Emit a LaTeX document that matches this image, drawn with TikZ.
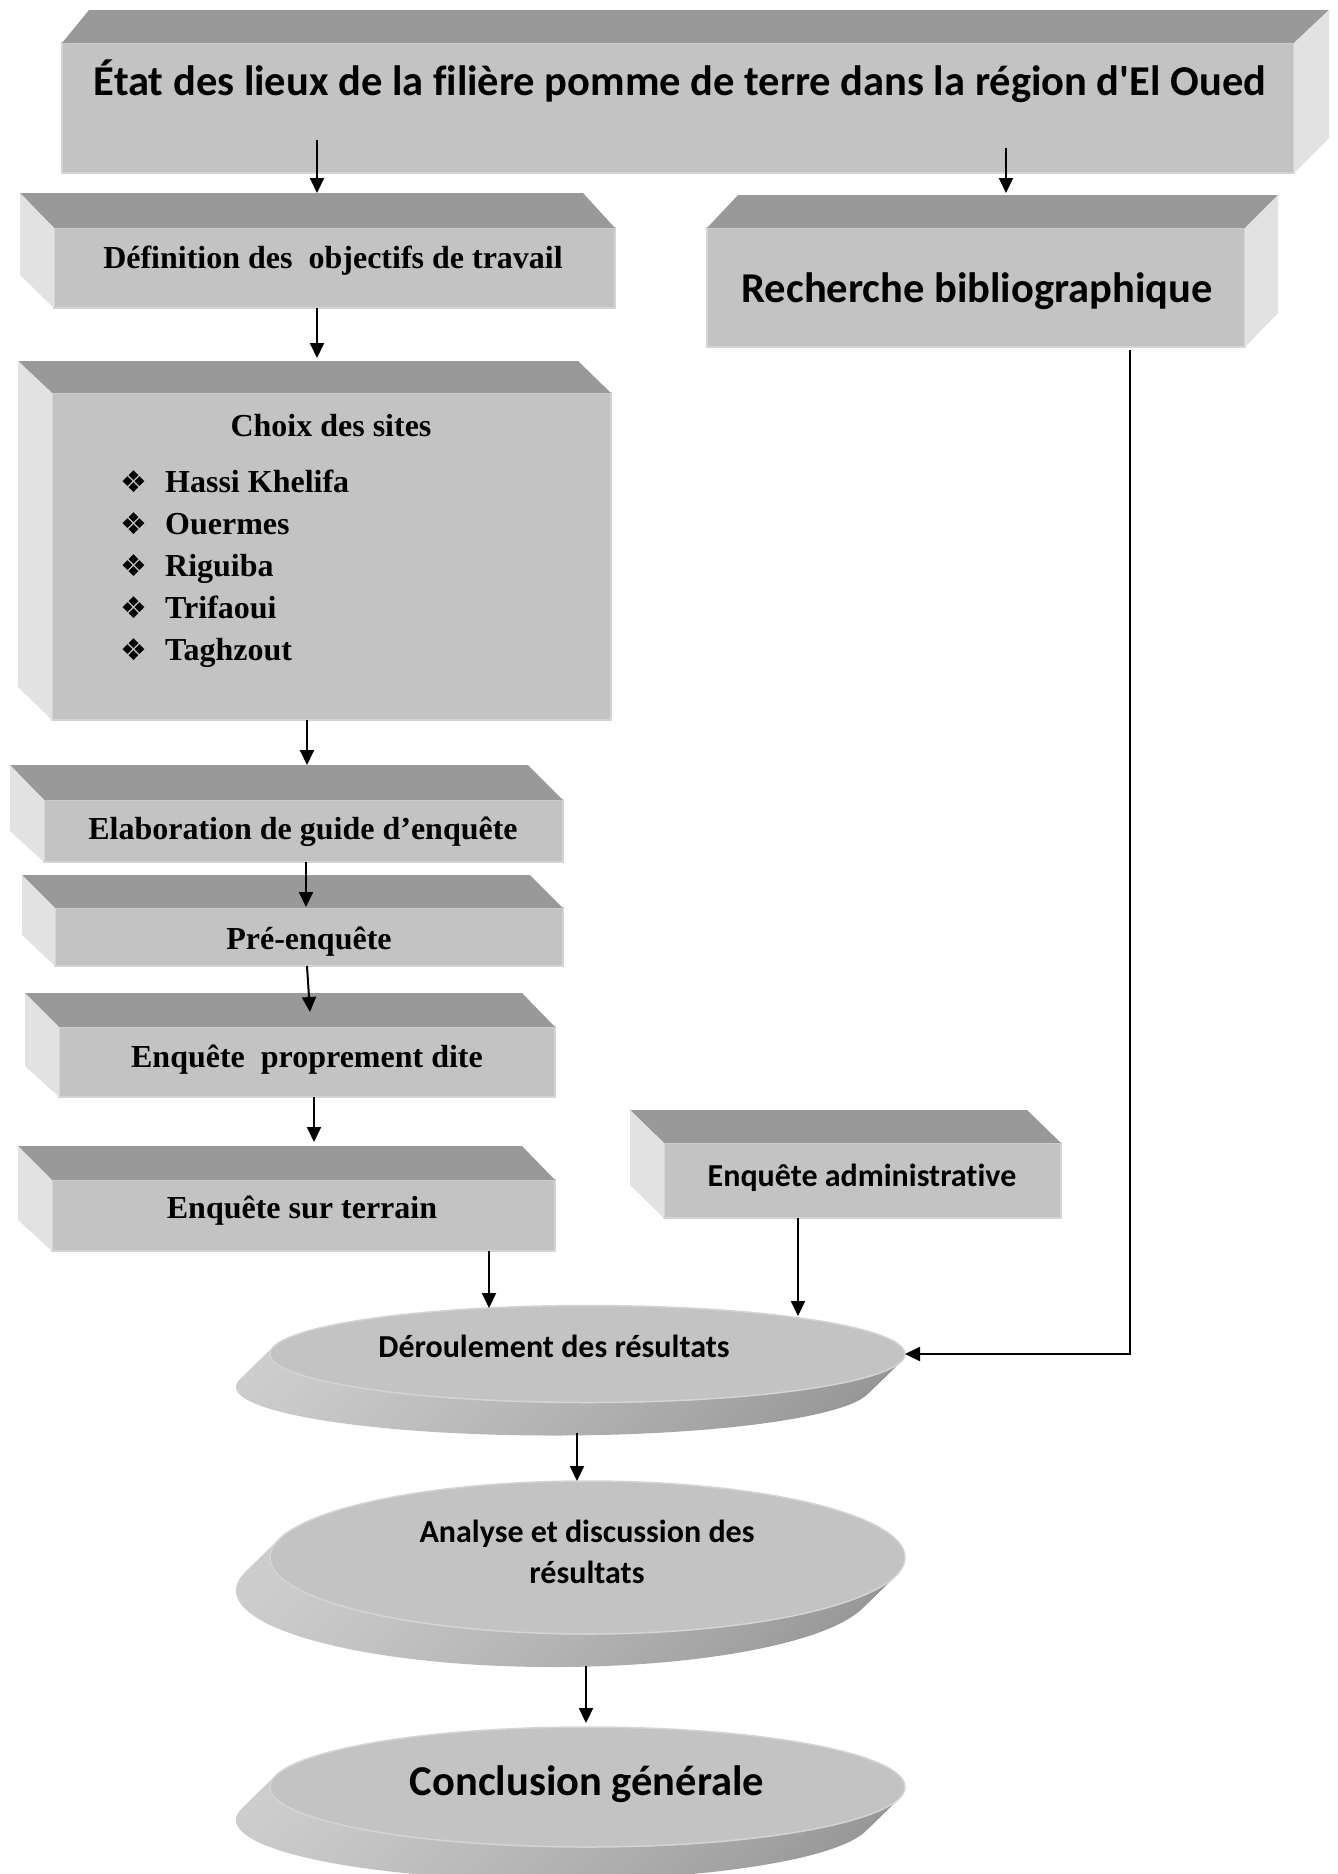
\documentclass[tikz,border=0pt]{standalone}
\usepackage{fontspec}
\setmainfont{Liberation Serif}[Ligatures=CommonOff]
\newfontfamily\calfont{Carlito}[Ligatures={TeXOff,CommonOff}]
\newfontfamily\symfont{DejaVu Sans}
\usetikzlibrary{arrows.meta,calc,shapes.geometric}
\definecolor{topc}{RGB}{153,153,153}
\definecolor{frontc}{RGB}{195,195,195}
\definecolor{sidec}{RGB}{226,226,226}
\definecolor{rimc}{RGB}{212,212,212}
\definecolor{sideL}{RGB}{205,205,205}
\definecolor{sideR}{RGB}{150,150,150}
\newcommand\cubeL[5]{%
  \fill[topc] (#1.north west) -- ++(#2,-#4) -- ($(#1.north east)+(#3,-#4)$) -- (#1.north east) -- cycle;
  \fill[sidec] (#1.north west) -- ++(#2,-#4) -- ($(#1.south west)+(#2,-#5)$) -- (#1.south west) -- cycle;
}
\newcommand\cubeR[5]{%
  \fill[topc] (#1.north west) -- ++(#2,-#4) -- ($(#1.north east)+(#3,-#4)$) -- (#1.north east) -- cycle;
  \fill[sidec] (#1.north east) -- ++(#3,-#4) -- ($(#1.south east)+(#3,-#5)$) -- (#1.south east) -- cycle;
}
\tikzset{
  frontface/.style={rectangle, fill=frontc, draw=rimc, line width=1.5pt, inner sep=0pt, outer sep=0pt},
  discface/.style={ellipse, fill=frontc, draw=rimc, line width=1.5pt, inner sep=0pt, outer sep=0pt},
  calbig/.style={inner sep=0pt, font=\calfont\bfseries\fontsize{42.5}{51}\selectfont},
  calmid/.style={inner sep=0pt, font=\calfont\bfseries\fontsize{32}{40}\selectfont},
  tnrtext/.style={inner sep=0pt, font=\bfseries\fontsize{32}{40}\selectfont},
  arr/.style={line width=2pt, -{Triangle[length=15pt,width=14pt]}},
}
\newcommand\bul{\makebox[45pt][l]{\symfont\fontsize{30}{30}\selectfont ❖}}
\begin{document}
\begin{tikzpicture}[x=1pt,y=-1pt]
\useasboundingbox (0,0) rectangle (1338,1874);
\fill[white] (0,0) rectangle (1338,1874);

% boxes
\node[frontface, minimum width=1232pt, minimum height=130pt] (title) at (678,108) {};
\cubeR{title}{27}{35}{33}{35}
\node[frontface, minimum width=561pt, minimum height=80pt] (defn) at (334.5,268) {};
\cubeL{defn}{-34}{-32}{35}{33}
\node[frontface, minimum width=538pt, minimum height=119pt] (rech) at (976,287.5) {};
\cubeR{rech}{31}{33}{33}{34}
\node[frontface, minimum width=559pt, minimum height=327pt] (choix) at (331.5,556.5) {};
\cubeL{choix}{-34}{-33}{32}{33}
\node[frontface, minimum width=519pt, minimum height=62pt] (elab) at (303.5,831) {};
\cubeL{elab}{-34}{-35}{35}{31}
\node[frontface, minimum width=508pt, minimum height=58pt] (pre) at (309,937) {};
\cubeL{pre}{-33}{-33}{33}{31}
\node[frontface, minimum width=496pt, minimum height=70pt] (enq) at (307,1062) {};
\cubeL{enq}{-34}{-33}{34}{31}
\node[frontface, minimum width=503pt, minimum height=71pt] (terr) at (303.5,1215.5) {};
\cubeL{terr}{-34}{-33}{34}{31}
\node[frontface, minimum width=397pt, minimum height=75pt] (admin) at (862.5,1180.5) {};
\cubeL{admin}{-34}{-34}{33}{33}

% discs
\coordinate (derc) at (587.5,1354);
\coordinate (anac) at (587.5,1557.5);
\coordinate (concc) at (587.5,1787);
\foreach \c/\rx/\ry in {derc/317.5/48.5, anac/317.5/76.5, concc/317.5/60}{
  \foreach \t in {34,32,...,2}{
    \shade[left color=sideL, right color=sideR] ($(\c)+(-\t,{\t*33/34})$) ellipse [x radius={\rx*1pt}, y radius={\ry*1pt}];
  }
}
\node[discface, minimum width=635pt, minimum height=97pt] (der) at (derc) {};
\node[discface, minimum width=635pt, minimum height=153pt] (ana) at (anac) {};
\node[discface, minimum width=635pt, minimum height=120pt] (conc) at (concc) {};

% texts
\node[calbig, anchor=base] (titletext) at (680,95) {État des lieux de la filière pomme de terre dans la région d'El Oued};
\node[tnrtext, anchor=base] (defntext) at (333,268) {Définition des\ \ objectifs de travail};
\node[calbig, anchor=base] (rechtext) at (977,302) {Recherche bibliographique};
\node[tnrtext, anchor=base] (choixtext) at (331,436) {Choix des sites};
\node[tnrtext, anchor=base west] (site1) at (120,492) {\bul Hassi Khelifa};
\node[tnrtext, anchor=base west] (site2) at (120,534) {\bul Ouermes};
\node[tnrtext, anchor=base west] (site3) at (120,576) {\bul Riguiba};
\node[tnrtext, anchor=base west] (site4) at (120,618) {\bul Trifaoui};
\node[tnrtext, anchor=base west] (site5) at (120,660) {\bul Taghzout};
\node[tnrtext, anchor=base] (elabtext) at (303,839) {Elaboration de guide d’enquête};
\node[tnrtext, anchor=base] (pretext) at (309,949) {Pré-enquête};
\node[tnrtext, anchor=base] (enqtext) at (307,1067) {Enquête\ \ proprement dite};
\node[tnrtext, anchor=base] (terrtext) at (302,1218) {Enquête sur terrain};
\node[calmid, anchor=base] (admintext) at (862,1186) {Enquête administrative};
\node[calmid, anchor=base] (dertext) at (554,1357) {Déroulement des résultats};
\node[calmid, anchor=base] (anatext1) at (587,1542) {Analyse et discussion des};
\node[calmid, anchor=base] (anatext2) at (587,1583) {résultats};
\node[calbig, anchor=base] (conctext) at (587,1795) {Conclusion générale};

% connectors
\draw[arr] ($(title.south)+(-361,-33)$) -- ($(defn.north)+(-17.5,-35)$);
\draw[arr] ($(title.south)+(328,-25)$) -- ($(rech.north)+(30,-35)$);
\draw[arr] ($(defn.south)+(-17.5,0)$) -- ($(choix.north)+(-14.5,-35)$);
\draw[arr] ($(choix.south)+(-24.5,0)$) -- ($(elab.north)+(3.5,-35)$);
\draw[arr] ($(elab.south)+(2.5,0)$) -- ($(pre.north)+(-3,-1)$);
\draw[arr] ($(pre.south)+(-2,0)$) -- ($(enq.north)+(3,-15)$);
\draw[arr] ($(enq.south)+(7,0)$) -- ($(terr.north)+(10.5,-38)$);
\draw[arr] ($(terr.south)+(185.5,0)$) -- ($(der.north)+(-98.5,2.5)$);
\draw[arr] ($(admin.south)+(-64.5,0)$) -- ($(der.north)+(210.5,10.5)$);
\draw[arr] ($(rech.south)+(154,3)$) |- (der.east);
\draw[arr] ($(der.south)+(-10.5,30.5)$) -- ($(ana.north)+(-10.5,0)$);
\draw[arr] ($(ana.south)+(-1.5,32)$) -- ($(conc.north)+(-1.5,-4)$);
\end{tikzpicture}
\end{document}
